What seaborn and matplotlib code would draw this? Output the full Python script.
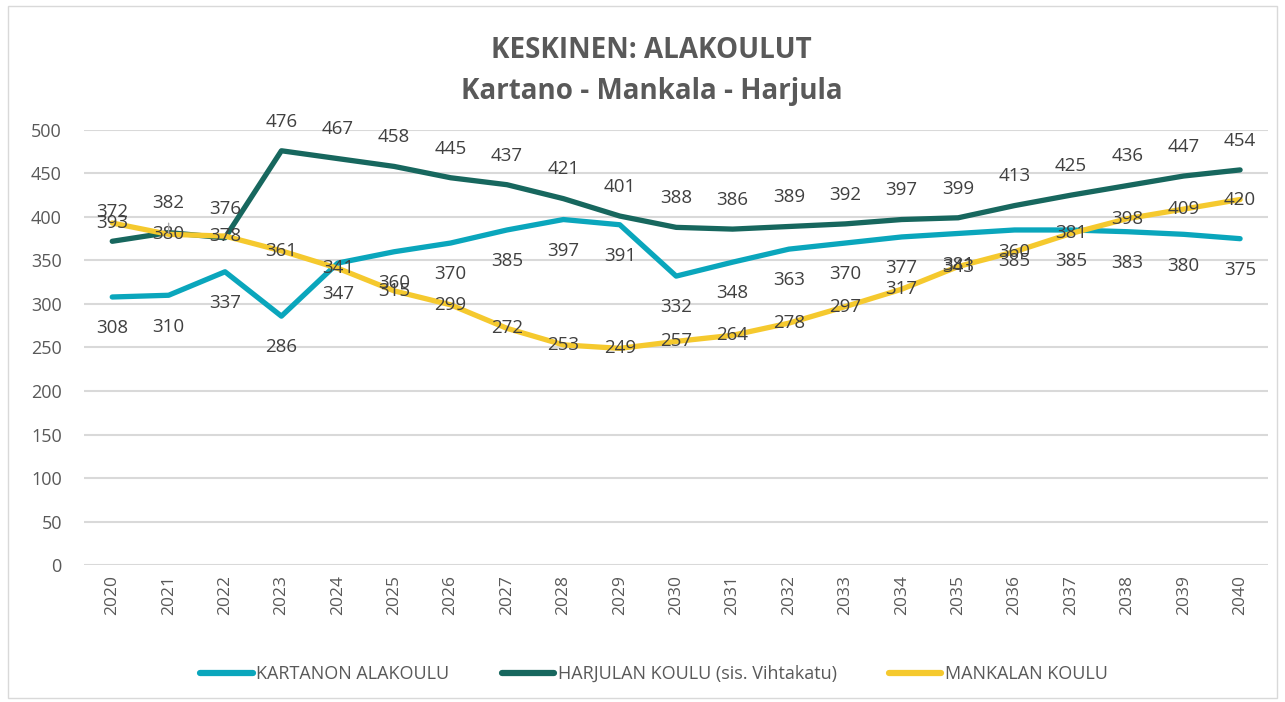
import pandas as pd
import matplotlib.pyplot as plt
import seaborn as sns
from matplotlib.patches import Rectangle

# Data
vuodet = list(range(2020, 2041))
kartano = [308, 310, 337, 286, 347, 360, 370, 385, 397, 391, 332, 348, 363, 370, 377, 381, 385, 385, 383, 380, 375]
harjula = [372, 382, 376, 476, 467, 458, 445, 437, 421, 401, 388, 386, 389, 392, 397, 399, 413, 425, 436, 447, 454]
mankala = [393, 380, 378, 361, 341, 315, 299, 272, 253, 249, 257, 264, 278, 297, 317, 343, 360, 381, 398, 409, 420]

sarjat = ['KARTANON ALAKOULU', 'HARJULAN KOULU (sis. Vihtakatu)', 'MANKALAN KOULU']
varit = ['#0AA6BC', '#17675E', '#F5C92E']

df = pd.DataFrame({
    'Vuosi': vuodet * 3,
    'Oppilaat': kartano + harjula + mankala,
    'Koulu': [sarjat[0]] * 21 + [sarjat[1]] * 21 + [sarjat[2]] * 21,
})

sns.set_theme(style='white')
plt.rcParams['font.family'] = ['Open Sans', 'DejaVu Sans']

fig = plt.figure(figsize=(12.85, 7.02), dpi=100)
ax = fig.add_axes([0.0654, 0.195, 0.9216, 0.62])

sns.lineplot(data=df, x='Vuosi', y='Oppilaat', hue='Koulu', palette=varit,
             linewidth=3.8, ax=ax, legend=False)

teksti = '#404040'
# data labels: Kartano below, Harjula above, Mankala centered on the line
for x, k, h, m in zip(vuodet, kartano, harjula, mankala):
    ax.annotate(str(k), (x, k), xytext=(0, -22.5), textcoords='offset points',
                ha='center', va='center', fontsize=13.5, color=teksti)
    ax.annotate(str(h), (x, h), xytext=(0, 21), textcoords='offset points',
                ha='center', va='center', fontsize=13.5, color=teksti)
    ax.annotate(str(m), (x, m), xytext=(0, 0), textcoords='offset points',
                ha='center', va='center', fontsize=13.5, color=teksti)

# small leader line under the 2021 Harjula label
ax.annotate('', xy=(vuodet[1], harjula[1] - 4), xytext=(vuodet[1], harjula[1] + 14),
            arrowprops=dict(arrowstyle='-', color='#A6A6A6', lw=1))

ax.set_xlim(2019.5, 2040.5)
ax.set_ylim(0, 500)
ax.set_yticks(range(0, 501, 50))
ax.set_xticks(vuodet)
ax.set_xticklabels([str(v) for v in vuodet], rotation=90, fontsize=12.5, color='#595959')
ax.tick_params(axis='y', labelsize=13, labelcolor='#595959', length=0, pad=16)
ax.tick_params(axis='x', length=0, pad=7)
ax.yaxis.grid(True, color='#D9D9D9', linewidth=1.5)
ax.set_axisbelow(True)
for s in ax.spines.values():
    s.set_visible(False)
ax.set_xlabel('')
ax.set_ylabel('')

fig.text(0.507, 0.928, 'KESKINEN: ALAKOULUT', ha='center', va='center',
         fontsize=20, fontweight='bold', color='#595959')
fig.text(0.507, 0.870, 'Kartano - Mankala - Harjula', ha='center', va='center',
         fontsize=20, fontweight='bold', color='#595959')

kahvat = [plt.Line2D([], [], color=c, linewidth=4.5, solid_capstyle='round') for c in varit]
fig.legend(kahvat, sarjat, loc='center', bbox_to_anchor=(0.509, 0.04), ncol=3,
           frameon=False, fontsize=13, handlelength=2.9, handletextpad=0.2,
           columnspacing=2.9, labelcolor='#595959')

fig.patches.append(Rectangle((0.006, 0.006), 0.988, 0.985, transform=fig.transFigure,
                             fill=False, edgecolor='#D9D9D9', linewidth=1))

plt.savefig('out.png', dpi=100)
